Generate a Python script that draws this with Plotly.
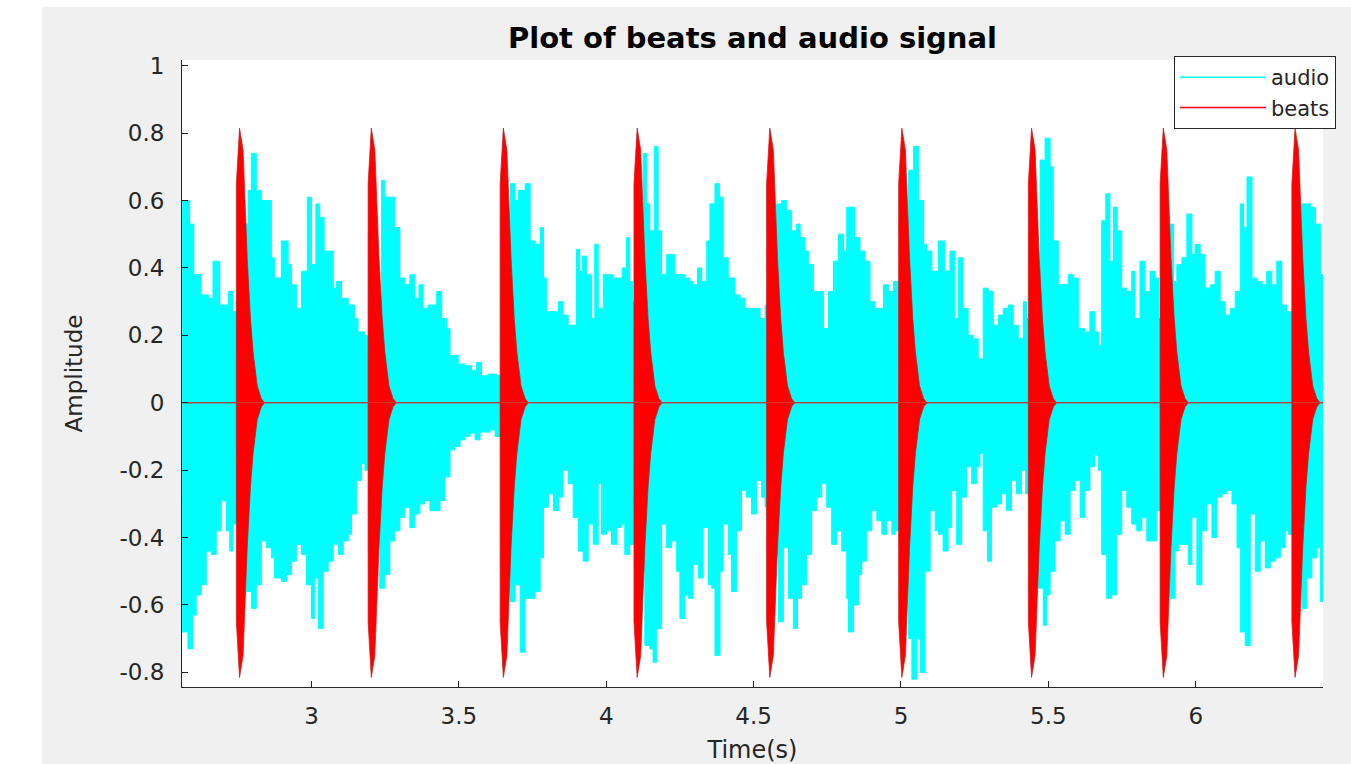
import plotly.graph_objects as go

# ---------------- data ----------------
x_range = [2.5608, 6.4318]
y_range = [-0.8433, 1.0169]

x_tick_vals = [3, 3.5, 4, 4.5, 5, 5.5, 6]
x_tick_text = ["3", "3.5", "4", "4.5", "5", "5.5", "6"]
y_tick_vals = [-0.8, -0.6, -0.4, -0.2, 0, 0.2, 0.4, 0.6, 0.8, 1]
y_tick_text = ["-0.8", "-0.6", "-0.4", "-0.2", "0", "0.2", "0.4", "0.6", "0.8", "1"]

# audio signal: upper envelope (time s, amplitude)
audio_up_t = [2.561, 2.587, 2.601, 2.626, 2.651, 2.666, 2.689, 2.719, 2.734, 2.745, 2.760,
              2.774, 2.785, 2.796, 2.813, 2.830, 2.847, 2.864, 2.875, 2.898, 2.909, 2.921,
              2.932, 2.949, 2.966, 2.986, 3.000, 3.015, 3.028, 3.043, 3.057, 3.074, 3.085,
              3.102, 3.125, 3.147, 3.158, 3.181, 3.190, 3.204,
              3.238, 3.249, 3.266, 3.283, 3.300, 3.317, 3.334, 3.351, 3.365, 3.379, 3.396,
              3.413, 3.425, 3.442, 3.459, 3.470, 3.498, 3.521, 3.543, 3.560, 3.577, 3.600,
              3.628, 3.651,
              3.674, 3.691, 3.702, 3.725, 3.742, 3.759, 3.776, 3.787, 3.798, 3.815, 3.838,
              3.854, 3.871, 3.899, 3.910, 3.919, 3.933, 3.950, 3.961, 3.973, 3.990, 4.007,
              4.024, 4.041, 4.054, 4.069, 4.080, 4.089, 4.105,
              4.125, 4.137, 4.148, 4.163, 4.176, 4.188, 4.205, 4.222, 4.233, 4.250, 4.267,
              4.284, 4.295, 4.310, 4.324, 4.341, 4.352, 4.369, 4.384, 4.397, 4.414, 4.425,
              4.437, 4.454, 4.471, 4.493, 4.510, 4.522, 4.539, 4.556,
              4.578, 4.595, 4.612, 4.629, 4.646, 4.658, 4.675, 4.686, 4.703, 4.720, 4.737,
              4.754, 4.771, 4.788, 4.805, 4.816, 4.827, 4.844, 4.861, 4.878, 4.895, 4.912,
              4.929, 4.941, 4.958, 4.975, 5.003,
              5.026, 5.043, 5.060, 5.077, 5.088, 5.105, 5.127, 5.149, 5.166, 5.183, 5.194,
              5.211, 5.228, 5.245, 5.262, 5.279, 5.296, 5.313, 5.330, 5.347, 5.364, 5.381,
              5.398, 5.415, 5.426, 5.443,
              5.472, 5.489, 5.506, 5.517, 5.534, 5.551, 5.568, 5.585, 5.602, 5.624, 5.641,
              5.658, 5.670, 5.681, 5.695, 5.709, 5.721, 5.734, 5.749, 5.766, 5.783, 5.794,
              5.811, 5.828, 5.845, 5.862, 5.874, 5.893,
              5.911, 5.925, 5.936, 5.953, 5.970, 5.987, 5.998, 6.015, 6.032, 6.049, 6.066,
              6.083, 6.100, 6.117, 6.134, 6.151, 6.162, 6.174, 6.191, 6.208, 6.225, 6.241,
              6.258, 6.275, 6.292, 6.309, 6.338,
              6.355, 6.372, 6.389, 6.406, 6.423, 6.432]
audio_up = [0.60, 0.53, 0.38, 0.32, 0.31, 0.42, 0.29, 0.33, 0.27, 0.30, 0.50,
            0.53, 0.63, 0.74, 0.63, 0.60, 0.60, 0.43, 0.37, 0.48, 0.48, 0.41,
            0.35, 0.28, 0.39, 0.61, 0.41, 0.59, 0.55, 0.45, 0.45, 0.34, 0.36,
            0.31, 0.29, 0.25, 0.21, 0.20, 0.17, 0.30,
            0.66, 0.61, 0.61, 0.52, 0.37, 0.35, 0.38, 0.31, 0.35, 0.28, 0.29,
            0.29, 0.33, 0.25, 0.22, 0.14, 0.115, 0.11, 0.096, 0.12, 0.08, 0.085,
            0.08, 0.40,
            0.65, 0.60, 0.63, 0.65, 0.48, 0.47, 0.52, 0.37, 0.27, 0.27, 0.30,
            0.26, 0.23, 0.455, 0.39, 0.435, 0.38, 0.25, 0.47, 0.28, 0.38, 0.38,
            0.37, 0.37, 0.40, 0.49, 0.36, 0.30, 0.40,
            0.74, 0.59, 0.51, 0.76, 0.51, 0.38, 0.44, 0.44, 0.38, 0.38, 0.37,
            0.36, 0.35, 0.40, 0.36, 0.48, 0.59, 0.65, 0.61, 0.43, 0.37, 0.37,
            0.32, 0.31, 0.28, 0.28, 0.28, 0.25, 0.29, 0.40,
            0.59, 0.60, 0.57, 0.51, 0.53, 0.49, 0.45, 0.41, 0.33, 0.33, 0.22,
            0.33, 0.42, 0.50, 0.45, 0.58, 0.58, 0.49, 0.45, 0.42, 0.30, 0.28,
            0.28, 0.35, 0.33, 0.36, 0.40,
            0.69, 0.76, 0.60, 0.47, 0.45, 0.39, 0.48, 0.39, 0.45, 0.25, 0.43,
            0.28, 0.20, 0.19, 0.13, 0.34, 0.33, 0.23, 0.26, 0.28, 0.29, 0.23,
            0.19, 0.30, 0.25, 0.40,
            0.72, 0.785, 0.70, 0.48, 0.35, 0.35, 0.38, 0.37, 0.22, 0.21, 0.27,
            0.21, 0.17, 0.54, 0.62, 0.42, 0.58, 0.51, 0.34, 0.33, 0.39, 0.25,
            0.42, 0.33, 0.39, 0.37, 0.25, 0.40,
            0.53, 0.36, 0.41, 0.43, 0.56, 0.44, 0.47, 0.44, 0.34, 0.35, 0.39,
            0.30, 0.26, 0.28, 0.33, 0.59, 0.52, 0.67, 0.37, 0.36, 0.35, 0.39,
            0.35, 0.42, 0.29, 0.27, 0.40,
            0.59, 0.59, 0.58, 0.53, 0.38, 0.33]

# audio signal: lower envelope (time s, magnitude below zero)
audio_lo_t = [2.561, 2.581, 2.598, 2.609, 2.626, 2.643, 2.660, 2.677, 2.694, 2.711, 2.723,
              2.734, 2.757,
              2.779, 2.796, 2.813, 2.830, 2.847, 2.864, 2.875, 2.898, 2.915, 2.932, 2.949,
              2.966, 2.983, 3.000, 3.011, 3.023, 3.040, 3.057, 3.074, 3.091, 3.108, 3.125,
              3.136, 3.153, 3.170, 3.181, 3.209,
              3.232, 3.249, 3.266, 3.283, 3.300, 3.317, 3.334, 3.351, 3.368, 3.385, 3.402,
              3.419, 3.436, 3.453, 3.470, 3.487, 3.504, 3.521, 3.538, 3.555, 3.572, 3.589,
              3.606, 3.623, 3.651,
              3.674, 3.691, 3.708, 3.725, 3.742, 3.759, 3.776, 3.787, 3.804, 3.821, 3.838,
              3.854, 3.871, 3.888, 3.905, 3.922, 3.939, 3.956, 3.973, 3.984, 4.001, 4.018,
              4.035, 4.052, 4.063, 4.080, 4.108,
              4.131, 4.148, 4.159, 4.171, 4.188, 4.205, 4.222, 4.239, 4.250, 4.267, 4.278,
              4.295, 4.312, 4.329, 4.346, 4.358, 4.369, 4.386, 4.397, 4.414, 4.425, 4.442,
              4.459, 4.476, 4.493, 4.510, 4.527, 4.539, 4.561,
              4.584, 4.601, 4.618, 4.635, 4.649, 4.663, 4.680, 4.697, 4.714, 4.731, 4.748,
              4.765, 4.782, 4.799, 4.816, 4.822, 4.839, 4.856, 4.867, 4.884, 4.901, 4.918,
              4.935, 4.952, 4.969, 4.980, 5.003,
              5.026, 5.037, 5.054, 5.065, 5.082, 5.099, 5.116, 5.127, 5.143, 5.160, 5.172,
              5.189, 5.206, 5.223, 5.240, 5.257, 5.268, 5.279, 5.294, 5.307, 5.324, 5.341,
              5.358, 5.375, 5.392, 5.409, 5.423, 5.443,
              5.466, 5.483, 5.494, 5.506, 5.523, 5.540, 5.557, 5.574, 5.591, 5.608, 5.624,
              5.641, 5.658, 5.670, 5.681, 5.698, 5.715, 5.732, 5.749, 5.766, 5.783, 5.800,
              5.817, 5.834, 5.851, 5.868, 5.893,
              5.913, 5.930, 5.941, 5.958, 5.975, 5.987, 6.004, 6.021, 6.038, 6.055, 6.072,
              6.089, 6.106, 6.123, 6.140, 6.151, 6.168, 6.185, 6.202, 6.219, 6.236, 6.253,
              6.270, 6.287, 6.304, 6.315, 6.338,
              6.360, 6.377, 6.394, 6.411, 6.423, 6.432]
audio_lo = [0.68, 0.73, 0.63, 0.57, 0.54, 0.44, 0.45, 0.38, 0.29, 0.38, 0.44,
            0.36, 0.50,
            0.56, 0.61, 0.54, 0.41, 0.43, 0.46, 0.52, 0.53, 0.51, 0.47, 0.42,
            0.45, 0.54, 0.64, 0.52, 0.67, 0.50, 0.47, 0.42, 0.45, 0.41, 0.39,
            0.33, 0.23, 0.18, 0.20, 0.35,
            0.55, 0.51, 0.41, 0.38, 0.34, 0.31, 0.37, 0.33, 0.30, 0.29, 0.32,
            0.32, 0.29, 0.22, 0.14, 0.13, 0.11, 0.10, 0.09, 0.11, 0.087, 0.087,
            0.08, 0.10, 0.35,
            0.59, 0.54, 0.74, 0.58, 0.58, 0.56, 0.46, 0.31, 0.27, 0.32, 0.28,
            0.20, 0.24, 0.34, 0.44, 0.47, 0.36, 0.42, 0.24, 0.39, 0.38, 0.42,
            0.37, 0.36, 0.45, 0.42, 0.50,
            0.72, 0.73, 0.77, 0.67, 0.36, 0.43, 0.41, 0.50, 0.64, 0.57, 0.58,
            0.48, 0.52, 0.37, 0.54, 0.55, 0.75, 0.50, 0.36, 0.45, 0.56, 0.38,
            0.26, 0.28, 0.33, 0.23, 0.28, 0.31, 0.45,
            0.65, 0.43, 0.58, 0.67, 0.58, 0.54, 0.45, 0.32, 0.28, 0.24, 0.31,
            0.42, 0.38, 0.44, 0.58, 0.68, 0.60, 0.51, 0.47, 0.38, 0.32, 0.35,
            0.39, 0.35, 0.39, 0.38, 0.50,
            0.70, 0.82, 0.70, 0.80, 0.50, 0.32, 0.38, 0.39, 0.44, 0.37, 0.26,
            0.42, 0.28, 0.19, 0.24, 0.19, 0.15, 0.38, 0.47, 0.31, 0.30, 0.27,
            0.32, 0.23, 0.27, 0.20, 0.27, 0.45,
            0.55, 0.66, 0.57, 0.50, 0.41, 0.35, 0.39, 0.26, 0.23, 0.34, 0.26,
            0.19, 0.155, 0.20, 0.45, 0.58, 0.57, 0.39, 0.26, 0.31, 0.36, 0.38,
            0.34, 0.41, 0.41, 0.32, 0.45,
            0.58, 0.44, 0.42, 0.42, 0.48, 0.34, 0.54, 0.38, 0.30, 0.40, 0.28,
            0.27, 0.26, 0.30, 0.43, 0.68, 0.72, 0.33, 0.50, 0.41, 0.49, 0.47,
            0.46, 0.43, 0.38, 0.39, 0.45,
            0.61, 0.52, 0.46, 0.43, 0.59, 0.48]

# beats: onset times (s) and decaying click envelope (offset s, amplitude)
beat_onsets = [2.745, 3.192, 3.640, 4.094, 4.544, 4.992, 5.432, 5.879, 6.326]
beat_env_offset = [0.0, 0.0002, 0.011, 0.023, 0.032, 0.037, 0.048, 0.057, 0.071, 0.085, 0.096]
beat_env_amp = [0.0, 0.65, 0.815, 0.75, 0.55, 0.43, 0.25, 0.15, 0.05, 0.012, 0.0]

# ---------------- build traces ----------------
beat_x = [x_range[0]]
beat_y = [0.0]
for t0 in beat_onsets:
    for dt, a in zip(beat_env_offset, beat_env_amp):
        beat_x.append(t0 + dt)
        beat_y.append(a)
beat_x.append(x_range[1])
beat_y.append(0.0)
beat_y_neg = [-v for v in beat_y]
audio_lo_neg = [-v for v in audio_lo]

CYAN = "#00ffff"
RED = "#ff0000"
BEAT_LINE = "rgba(200,30,30,0.75)"

fig = go.Figure()
fig.add_trace(go.Scatter(x=audio_up_t, y=audio_up, mode="lines", line=dict(color=CYAN, width=1, shape="hv"),
                         fill="tozeroy", fillcolor=CYAN, showlegend=False, hoverinfo="skip"))
fig.add_trace(go.Scatter(x=audio_lo_t, y=audio_lo_neg, mode="lines", line=dict(color=CYAN, width=1, shape="hv"),
                         fill="tozeroy", fillcolor=CYAN, showlegend=False, hoverinfo="skip"))
fig.add_trace(go.Scatter(x=beat_x, y=beat_y, mode="lines", line=dict(color=BEAT_LINE, width=1),
                         fill="tozeroy", fillcolor=RED, showlegend=False, hoverinfo="skip"))
fig.add_trace(go.Scatter(x=beat_x, y=beat_y_neg, mode="lines", line=dict(color=BEAT_LINE, width=1),
                         fill="tozeroy", fillcolor=RED, showlegend=False, hoverinfo="skip"))
# legend entries
fig.add_trace(go.Scatter(x=[None], y=[None], mode="lines", name="audio", line=dict(color=CYAN, width=1.5)))
fig.add_trace(go.Scatter(x=[None], y=[None], mode="lines", name="beats", line=dict(color=RED, width=1.5)))

AX = "#262626"
FONT = "DejaVu Sans"

fig.update_layout(
    width=1351, height=764,
    margin=dict(l=182, r=28, t=60, b=77, autoexpand=False),
    paper_bgcolor="#f0f0f0",
    plot_bgcolor="#ffffff",
    font=dict(family=FONT, color=AX, size=23),
    title=dict(text="<b>Plot of beats and audio signal</b>", x=0.5, xref="paper", xanchor="center",
               y=1 - 38 / 764, yref="container", yanchor="middle",
               font=dict(family=FONT, size=29, color="#000000")),
    xaxis=dict(range=x_range, tickvals=x_tick_vals, ticktext=x_tick_text,
               showgrid=False, zeroline=False, showline=True, linecolor=AX, linewidth=1,
               ticks="inside", ticklen=6, tickcolor=AX, tickwidth=1,
               tickfont=dict(family=FONT, size=23, color=AX), ticklabelstandoff=8,
               title=dict(text="Time(s)", font=dict(family=FONT, size=24, color=AX), standoff=20),
               automargin=False, mirror=False),
    yaxis=dict(range=y_range, tickvals=y_tick_vals, ticktext=y_tick_text,
               showgrid=False, zeroline=False, showline=True, linecolor=AX, linewidth=1,
               ticks="inside", ticklen=6, tickcolor=AX, tickwidth=1,
               tickfont=dict(family=FONT, size=23, color=AX), ticklabelstandoff=12,
               title=dict(text="Amplitude", font=dict(family=FONT, size=23, color=AX), standoff=30),
               automargin=False, mirror=False),
    legend=dict(x=(1336 - 182) / 1141, xanchor="right", y=(687 - 56) / 627, yanchor="top",
                bgcolor="#ffffff", bordercolor=AX, borderwidth=1,
                font=dict(family=FONT, size=21, color=AX), itemwidth=86,
                tracegroupgap=0),
    shapes=[
        dict(type="rect", xref="paper", yref="paper", x0=-0.2, x1=(42 - 182) / 1141, y0=-0.3, y1=1.3,
             fillcolor="#ffffff", line=dict(width=0), layer="below"),
        dict(type="rect", xref="paper", yref="paper", x0=-0.2, x1=1.2, y0=(687 - 7) / 627, y1=1.3,
             fillcolor="#ffffff", line=dict(width=0), layer="below"),
    ],
)

fig.write_html("out.html", config={"displayModeBar": False},
               post_script="document.body.style.margin='0';document.body.style.overflow='hidden';")
